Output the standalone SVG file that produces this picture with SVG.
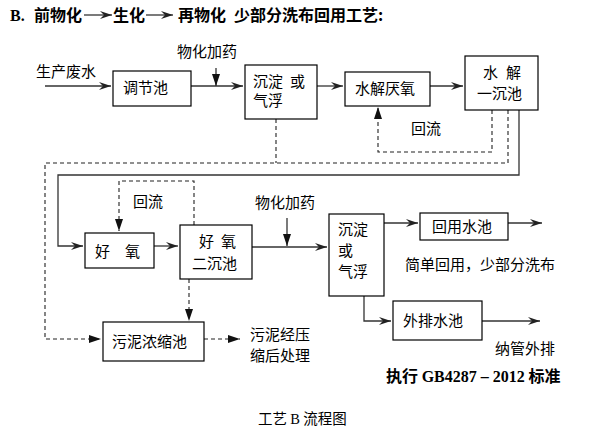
<svg xmlns="http://www.w3.org/2000/svg" width="591" height="435" viewBox="0 0 591 435">
<defs>
<marker id="ah" viewBox="0 0 12 8" refX="12" refY="4" markerWidth="12" markerHeight="8" markerUnits="userSpaceOnUse" orient="auto">
<path d="M0,0 L12,4 L0,8 L4,4 z" fill="#222"/>
</marker>
<marker id="ad" viewBox="0 0 12 8" refX="12" refY="4" markerWidth="12" markerHeight="8" markerUnits="userSpaceOnUse" orient="auto">
<path d="M0,0 L12,4 L0,8 z" fill="#111"/>
</marker>
</defs>
<style>
rect{fill:#fff;stroke:#000;stroke-width:1.2}
text{font-family:"Noto Sans CJK SC","Noto Sans",sans-serif;font-size:15px;fill:#000}
.t{font-weight:bold;font-size:16px}
.s{font-family:"Liberation Serif",serif;font-weight:bold}
.l{fill:none;stroke:#333;stroke-width:1.3}
.d{fill:none;stroke:#222;stroke-width:1.1;stroke-dasharray:4,3}
</style>
<rect width="591" height="435" fill="#fff" style="stroke:none"/>
<g id="title">
<text x="10" y="21" class="t"><tspan class="s">B.</tspan></text>
<text x="34" y="21" class="t">前物化</text>
<text x="113" y="21" class="t">生化</text>
<text x="178" y="21" class="t">再物化</text>
<text x="234" y="21" class="t">少部分洗布回用工艺:</text>
<line x1="84" y1="15" x2="112" y2="15" class="l" marker-end="url(#ah)"/>
<line x1="146" y1="15" x2="173" y2="15" class="l" marker-end="url(#ah)"/>
</g>
<g id="connectors">
<line x1="45" y1="86" x2="111" y2="86" class="l" marker-end="url(#ah)"/>
<line x1="191" y1="86" x2="243" y2="86" class="l" marker-end="url(#ah)"/>
<line x1="216" y1="68" x2="216" y2="86" class="l" marker-end="url(#ad)"/>
<line x1="317" y1="86" x2="343" y2="86" class="l" marker-end="url(#ah)"/>
<line x1="430" y1="86" x2="463" y2="86" class="l" marker-end="url(#ah)"/>
<polyline points="492,110 492,152 378,152 378,107" class="d" marker-end="url(#ad)"/>
<polyline points="508,110 508,163 45,163 45,339 101,339" class="d" marker-end="url(#ad)"/>
<line x1="276" y1="119" x2="276" y2="163" class="d"/>
<polyline points="519,110 519,175 58,175 58,246 83,246" class="l" marker-end="url(#ah)"/>
<line x1="154" y1="246" x2="178" y2="246" class="l" marker-end="url(#ah)"/>
<polyline points="194,225 194,181 119,181 119,231" class="d" marker-end="url(#ad)"/>
<line x1="252" y1="247" x2="327" y2="247" class="l" marker-end="url(#ah)"/>
<line x1="287" y1="218" x2="287" y2="246" class="l" marker-end="url(#ad)"/>
<line x1="384" y1="223" x2="418" y2="223" class="l" marker-end="url(#ah)"/>
<line x1="508" y1="223" x2="542" y2="223" class="l" marker-end="url(#ah)"/>
<polyline points="364,296 364,321 391,321" class="l" marker-end="url(#ah)"/>
<line x1="482" y1="321" x2="540" y2="321" class="l" marker-end="url(#ah)"/>
<line x1="189" y1="279" x2="189" y2="321" class="d" marker-end="url(#ad)"/>
<line x1="204" y1="339" x2="240" y2="339" class="d" marker-end="url(#ad)"/>
</g>
<g id="label-input"><text x="36" y="77">生产废水</text></g>
<g id="label-dose1"><text x="177" y="57">物化加药</text></g>
<g id="n-tiaojie"><rect x="113" y="71" width="78" height="35"/><text x="123" y="93">调节池</text></g>
<g id="n-chendian1"><rect x="245" y="65" width="72" height="54"/><text x="253" y="87">沉淀</text><text x="290" y="87">或</text><text x="253" y="106">气浮</text></g>
<g id="n-shuijie"><rect x="345" y="72" width="85" height="34"/><text x="355" y="94">水解厌氧</text></g>
<g id="n-shuijie2"><rect x="465" y="56" width="73" height="54"/><text x="483" y="78">水</text><text x="506" y="78">解</text><text x="477" y="99">一沉池</text></g>
<g id="label-huiliu1"><text x="411" y="134">回流</text></g>
<g id="n-haoyang"><rect x="85" y="233" width="69" height="35"/><text x="95" y="257">好</text><text x="125" y="257">氧</text></g>
<g id="n-haoyang2"><rect x="180" y="225" width="72" height="54"/><text x="199" y="247">好</text><text x="221" y="247">氧</text><text x="192" y="269">二沉池</text></g>
<g id="label-huiliu2"><text x="133" y="207">回流</text></g>
<g id="label-dose2"><text x="255" y="208">物化加药</text></g>
<g id="n-chendian2"><rect x="329" y="214" width="55" height="82"/><text x="338" y="235">沉淀</text><text x="338" y="256">或</text><text x="338" y="277">气浮</text></g>
<g id="n-huiyong"><rect x="420" y="213" width="88" height="27"/><text x="432" y="232">回用水池</text></g>
<g id="label-reuse"><text x="405" y="270">简单回用，少部分洗布</text></g>
<g id="n-waipai"><rect x="393" y="301" width="89" height="39"/><text x="403" y="326">外排水池</text></g>
<g id="label-out"><text x="495" y="354">纳管外排</text></g>
<g id="label-std"><text x="386" y="382" class="t">执行 <tspan class="s">GB4287 – 2012</tspan> 标准</text></g>
<g id="n-wuni"><rect x="103" y="322" width="101" height="39"/><text x="112" y="347">污泥浓缩池</text></g>
<g id="label-sludge"><text x="250" y="340">污泥经压</text><text x="250" y="361">缩后处理</text></g>
<g id="caption"><text x="258" y="424" style="font-size:14.5px">工艺 <tspan style="font-family:'Liberation Serif',serif">B</tspan> 流程图</text></g>
</svg>
